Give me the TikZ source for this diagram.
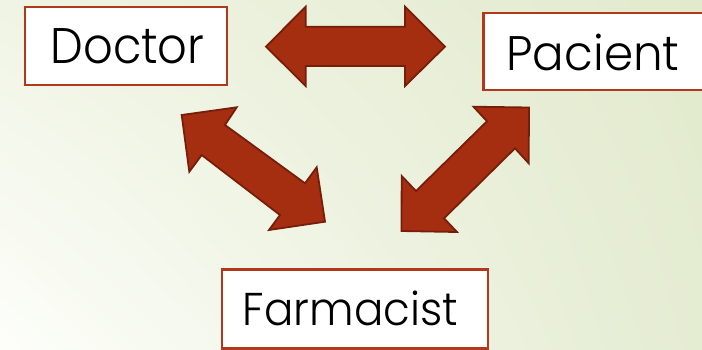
\documentclass[tikz,border=0pt]{standalone}
\usepackage{fontspec}
\IfFontExistsTF{Poppins Light}{\setmainfont{Poppins Light}}{\setmainfont{Poppins}}
\usepackage{graphicx}
\usetikzlibrary{shadings}
\definecolor{bgUL}{RGB}{240,244,228}
\definecolor{bgUR}{RGB}{226,234,205}
\definecolor{bgLL}{RGB}{253,254,250}
\definecolor{bgLR}{RGB}{228,236,210}
\definecolor{boxline}{RGB}{178,56,28}
\definecolor{arrowfill}{RGB}{166,46,16}
\definecolor{arrowline}{RGB}{118,30,10}
\tikzset{
  labelbox/.style={draw=boxline, line width=2.8pt, fill=white, inner sep=0pt},
  labeltext/.style={inner sep=0pt, text=black},
  blockarrow/.style={fill=arrowfill, draw=arrowline, line width=1.8pt, line join=miter}
}
\newcommand{\fitword}[3]{\resizebox{#1pt}{\height}{\fontsize{#2}{#2}\selectfont #3}}
\begin{document}
\begin{tikzpicture}[x=1pt,y=-1pt]
\shade[upper left=bgUL, upper right=bgUR, lower left=bgLL, lower right=bgLR] (0,0) rectangle (702,349);
\useasboundingbox (0,0) rectangle (702,349);
% boxes
\node[labelbox, minimum width=202pt, minimum height=78pt] (doctor) at (126,46) {};
\node[labeltext] (doctorT) at (127.5,46.5) {\fitword{154}{50}{Doctor}};
\node[labelbox, minimum width=222pt, minimum height=77pt] (pacient) at (594.5,51.4) {};
\node[labeltext] (pacientT) at (593,52) {\fitword{173}{48.5}{Pacient}};
\node[labelbox, minimum width=266pt, minimum height=79pt] (farm) at (355,308.7) {};
\node[labeltext] (farmT) at (350.5,308) {\fitword{215}{46}{Farmacist}};
% block arrows
\draw[blockarrow] (266,46.6) -- (305.7,6.7) -- (305.7,26.7) -- (405,26.7) -- (405,6.7) -- (445,46.6)
  -- (405,86) -- (405,66) -- (305.7,66) -- (305.7,86) -- cycle;
\draw[blockarrow] (181.7,115) -- (236.7,107.3) -- (225,125) -- (305,183.3) -- (316.7,167.3)
  -- (325,221.7) -- (269,230) -- (280,215) -- (201.7,155) -- (189.3,171.7) -- cycle;
\draw[blockarrow] (529,107.5) -- (473.5,106.7) -- (487,121.3) -- (416,191) -- (401.7,176)
  -- (401.5,231) -- (457,232) -- (444,218.3) -- (515,148.3) -- (528.7,163.3) -- cycle;
\end{tikzpicture}
\end{document}
